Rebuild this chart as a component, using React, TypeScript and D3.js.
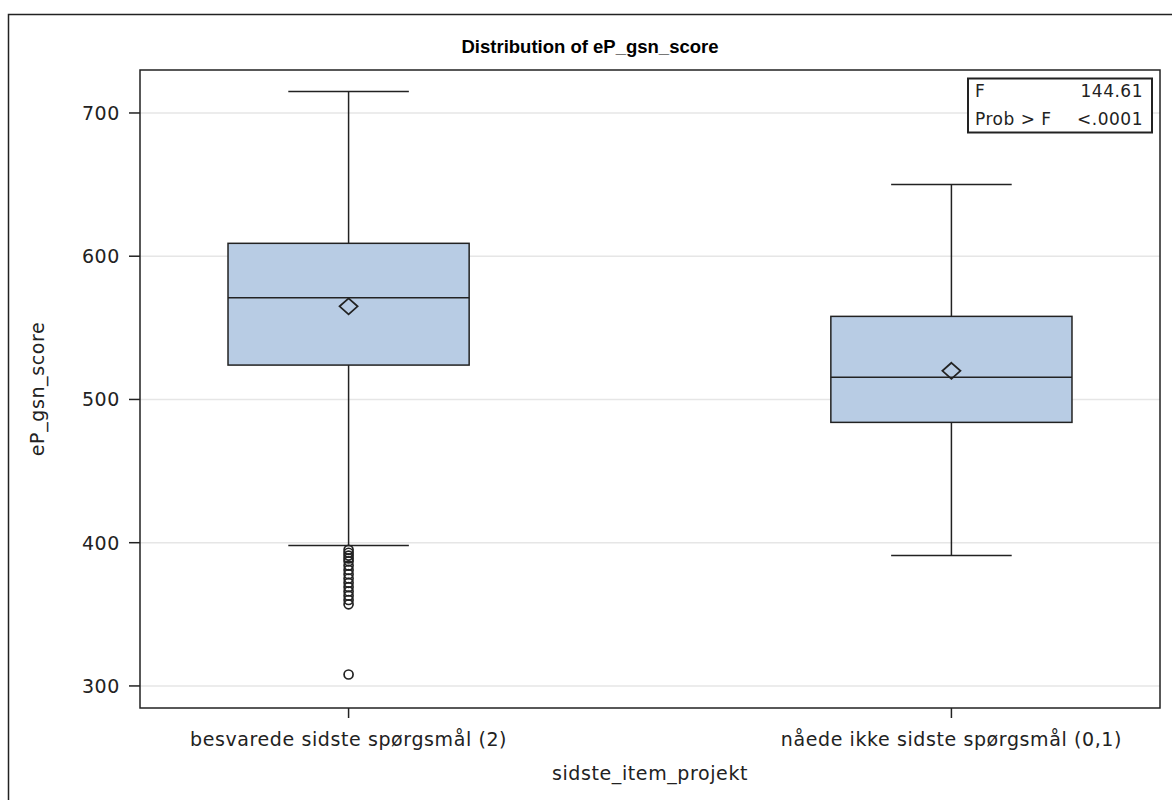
import React from "react";
import * as d3 from "d3";

// groups on the x axis
const categories = ["besvarede sidste spørgsmål (2)", "nåede ikke sidste spørgsmål (0,1)"];
// five-number summaries
const whiskerLow = [398, 391];
const q1 = [524, 484];
const median = [571, 515.5];
const q3 = [609, 558];
const whiskerHigh = [715, 650];
const means = [565, 520];
// outliers below the lower whisker of the first group
const outliers1 = [395, 393, 391, 389, 387, 384, 381, 378, 375, 372, 369, 366, 363, 360, 357, 308];
const outliers2: number[] = [];
const yTicks = [300, 400, 500, 600, 700];
const statLabels = ["F", "Prob > F"];
const statValues = ["144.61", "<.0001"];

const W = 1172;
const H = 800;
const plot = { left: 140, right: 1160, top: 70, bottom: 708 };
const ink = "#222";
const labelFont = "'DejaVu Sans', sans-serif";

export default function App() {
  const x = d3
    .scalePoint<string>()
    .domain(categories)
    .range([plot.left, plot.right])
    .padding(0.346);
  const y = d3.scaleLinear().domain([284.6, 730]).range([plot.bottom, plot.top]);
  const boxW = x.step() * 0.4;
  const capW = boxW / 2;
  const outliers = [outliers1, outliers2];
  const midX = (plot.left + plot.right) / 2;
  const midY = (plot.top + plot.bottom) / 2;

  return (
    <svg width={W} height={H} style={{ position: "fixed", left: 0, top: 0, background: "#fff" }}>
      <rect x={8.5} y={14.5} width={W} height={H} fill="#fff" stroke={ink} strokeWidth={1.5} />
      <text
        x={(8 + W) / 2}
        y={53}
        textAnchor="middle"
        fontFamily="'Liberation Sans', Arial, sans-serif"
        fontWeight="bold"
        fontSize={18.5}
        fill="#000"
      >
        Distribution of eP_gsn_score
      </text>

      {/* grid */}
      {yTicks.map((t) => (
        <line key={"g" + t} x1={plot.left} x2={plot.right} y1={y(t)} y2={y(t)} stroke="#e6e6e6" strokeWidth={1.5} />
      ))}

      {/* boxes */}
      {categories.map((c, i) => {
        const cx = x(c) as number;
        return (
          <g key={c} stroke={ink} strokeWidth={1.5}>
            <line x1={cx} x2={cx} y1={y(q3[i])} y2={y(whiskerHigh[i])} />
            <line x1={cx} x2={cx} y1={y(q1[i])} y2={y(whiskerLow[i])} />
            <line x1={cx - capW / 2} x2={cx + capW / 2} y1={y(whiskerHigh[i])} y2={y(whiskerHigh[i])} />
            <line x1={cx - capW / 2} x2={cx + capW / 2} y1={y(whiskerLow[i])} y2={y(whiskerLow[i])} />
            <rect
              x={cx - boxW / 2}
              y={y(q3[i])}
              width={boxW}
              height={y(q1[i]) - y(q3[i])}
              fill="#b8cce4"
            />
            <line x1={cx - boxW / 2} x2={cx + boxW / 2} y1={y(median[i])} y2={y(median[i])} />
            <path
              d={`M${cx},${y(means[i]) - 8}L${cx + 9},${y(means[i])}L${cx},${y(means[i]) + 8}L${cx - 9},${y(means[i])}Z`}
              fill="none"
              strokeWidth={1.8}
            />
            {outliers[i].map((v, k) => (
              <circle key={k} cx={cx} cy={y(v)} r={4.5} fill="none" strokeWidth={1.7} />
            ))}
          </g>
        );
      })}

      {/* plot frame */}
      <rect
        x={plot.left}
        y={plot.top}
        width={plot.right - plot.left}
        height={plot.bottom - plot.top}
        fill="none"
        stroke={ink}
        strokeWidth={1.5}
      />

      {/* y axis */}
      <g fontFamily={labelFont} fontSize={19} fill={ink} letterSpacing={0.6}>
        {yTicks.map((t) => (
          <g key={"t" + t}>
            <line x1={plot.left - 11} x2={plot.left} y1={y(t)} y2={y(t)} stroke={ink} strokeWidth={1.5} />
            <text x={120} y={y(t)} dy="0.36em" textAnchor="end">
              {t}
            </text>
          </g>
        ))}
        <text transform={`translate(44,${midY}) rotate(-90)`} textAnchor="middle">
          eP_gsn_score
        </text>
      </g>

      {/* x axis */}
      <g fontFamily={labelFont} fontSize={19} fill={ink} letterSpacing={0.6}>
        {categories.map((c) => (
          <g key={"x" + c}>
            <line x1={x(c)} x2={x(c)} y1={plot.bottom} y2={plot.bottom + 10} stroke={ink} strokeWidth={1.5} />
            <text x={x(c)} y={746} textAnchor="middle">
              {c}
            </text>
          </g>
        ))}
        <text x={midX} y={780} textAnchor="middle">
          sidste_item_projekt
        </text>
      </g>

      {/* statistics inset */}
      <g fontFamily={labelFont} fontSize={17} fill={ink} letterSpacing={0.5}>
        <rect x={968} y={78.5} width={184} height={54} fill="#fff" stroke={ink} strokeWidth={2} />
        {statLabels.map((s, i) => (
          <g key={s}>
            <text x={975} y={97 + i * 28}>
              {s}
            </text>
            <text x={1143} y={97 + i * 28} textAnchor="end">
              {statValues[i]}
            </text>
          </g>
        ))}
      </g>
    </svg>
  );
}
